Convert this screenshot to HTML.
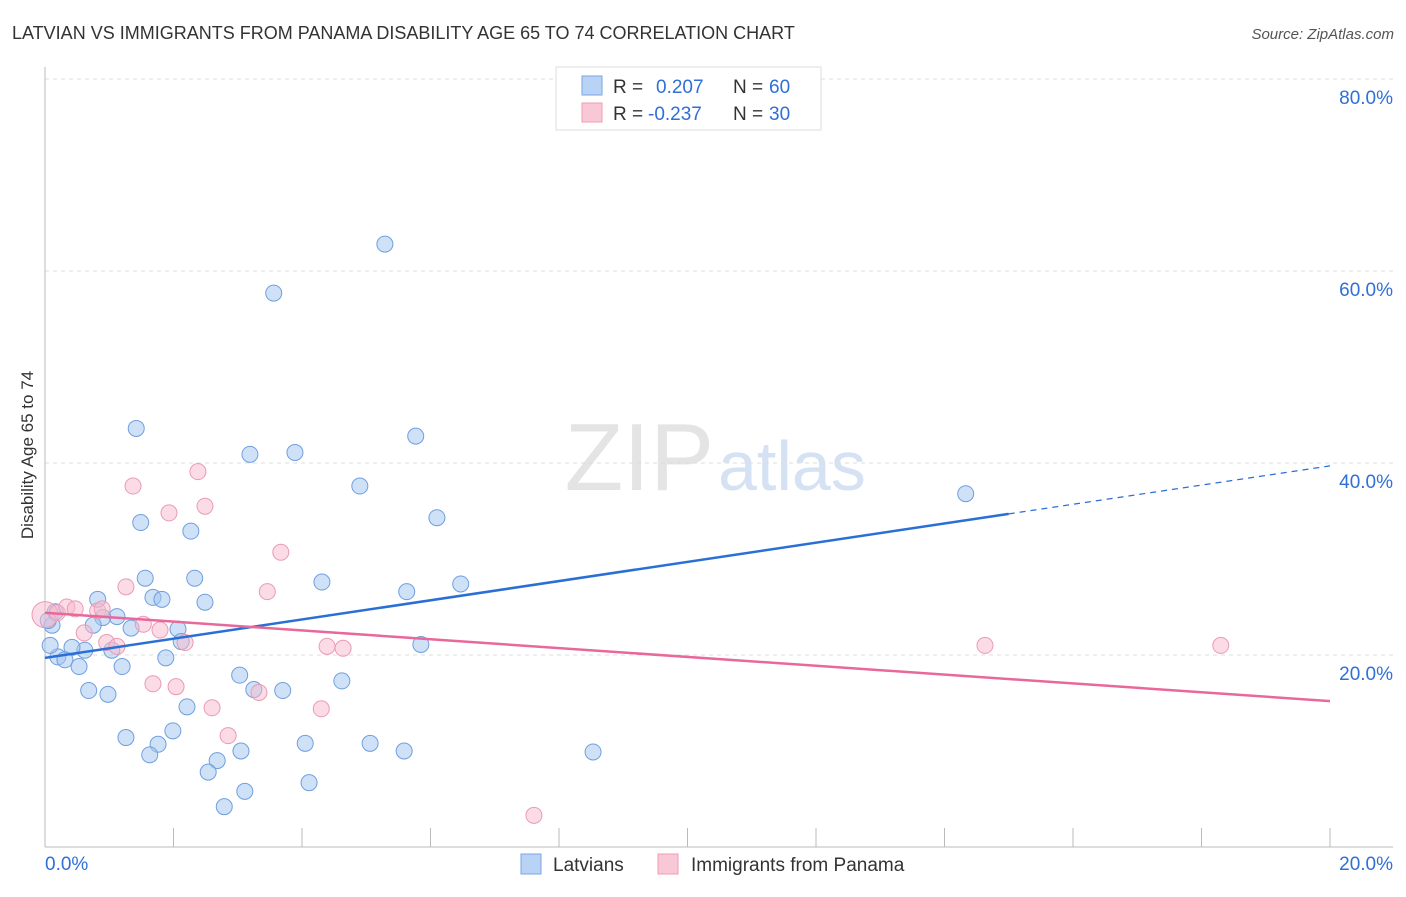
<!DOCTYPE html>
<html><head><meta charset="utf-8"><style>
body{margin:0;background:#fff;font-family:"Liberation Sans",sans-serif;}
svg text{font-family:"Liberation Sans",sans-serif;}
</style></head><body>
<svg id="chart" width="1406" height="892">
<text x="12" y="39" font-size="18" fill="#333">LATVIAN VS IMMIGRANTS FROM PANAMA DISABILITY AGE 65 TO 74 CORRELATION CHART</text>
<text x="1394" y="39" font-size="15" fill="#555" text-anchor="end" font-style="italic">Source: ZipAtlas.com</text>
<text x="714" y="490" font-size="96" fill="#e4e4e4" text-anchor="end" font-family="Liberation Serif">ZIP</text>
<text x="718" y="490" font-size="70" fill="#d4e2f4">atlas</text>
<g id="grid"></g>
<g id="axes"></g>
<g id="marks"></g>
<text x="33" y="455" font-size="17" fill="#333" text-anchor="middle" transform="rotate(-90 33 455)">Disability Age 65 to 74</text>
<g>
<rect x="556" y="67" width="265" height="63" fill="#fff" stroke="#ddd"/>
<rect x="582" y="76" width="20" height="19" fill="#b8d3f5" stroke="#7aa6e3"/>
<rect x="582" y="103" width="20" height="19" fill="#f9c8d6" stroke="#ee9bb3"/>
<text x="613" y="93" font-size="19" fill="#333">R =</text>
<text x="656" y="93" font-size="19" fill="#2f6fd6">0.207</text>
<text x="733" y="93" font-size="19" fill="#333">N =</text>
<text x="769" y="93" font-size="19" fill="#2f6fd6">60</text>
<text x="613" y="120" font-size="19" fill="#333">R =</text>
<text x="648" y="120" font-size="19" fill="#2f6fd6">-0.237</text>
<text x="733" y="120" font-size="19" fill="#333">N =</text>
<text x="769" y="120" font-size="19" fill="#2f6fd6">30</text>
</g>
<g>
<rect x="521" y="854" width="20" height="20" fill="#b8d3f5" stroke="#7aa6e3"/>
<text x="553" y="871" font-size="19" fill="#333">Latvians</text>
<rect x="658" y="854" width="20" height="20" fill="#f9c8d6" stroke="#ee9bb3"/>
<text x="691" y="871" font-size="19" fill="#333">Immigrants from Panama</text>
</g>
</svg>
<script>
const blueX=[5.29,3.56,1.42,5.77,3.19,3.89,4.90,14.33,6.10,1.49,2.27,1.56,2.33,4.31,6.47,5.63,0.82,1.68,1.82,2.49,1.12,0.90,0.75,1.34,2.07,2.12,5.85,1.04,0.62,0.42,0.20,0.31,0.08,0.11,0.16,1.88,0.53,1.20,3.03,4.62,3.25,3.70,0.68,0.98,2.21,1.99,1.26,1.76,4.05,5.06,5.59,3.05,1.63,8.53,2.68,2.54,4.11,3.11,2.79,0.05];
const blueY=[62.8,57.7,43.6,42.8,40.9,41.1,37.6,36.8,34.3,33.8,32.9,28.0,28.0,27.6,27.4,26.6,25.8,26.0,25.8,25.5,24.0,23.9,23.1,22.8,22.7,21.4,21.1,20.5,20.5,20.8,19.8,19.5,21.0,23.1,24.5,19.7,18.8,18.8,17.9,17.3,16.4,16.3,16.3,15.9,14.6,12.1,11.4,10.7,10.8,10.8,10.0,10.0,9.6,9.9,9.0,7.8,6.7,5.8,4.2,23.6];
const pinkX=[0,0.19,0.34,0.47,0.82,0.89,0.61,0.96,1.12,1.26,1.37,1.93,2.38,2.49,3.67,3.46,1.53,1.79,2.18,1.68,2.04,2.60,2.85,3.33,4.39,4.64,4.30,7.61,14.63,18.30];
const pinkY=[24.2,24.4,25.0,24.8,24.6,24.8,22.3,21.3,20.9,27.1,37.6,34.8,39.1,35.5,30.7,26.6,23.2,22.6,21.3,17.0,16.7,14.5,11.6,16.1,20.9,20.7,14.4,3.3,21.0,21.0];
const blueTrend=[19.7,34.7,39.7]; // at x=0, 15, 20
const trendX=[0,15,20];
const pinkTrend=[24.4,15.2]; // at x=0, 20
const yTicks=[20,40,60,80];
const xTicks=[2,4,6,8,10,12,14,16,18,20];
const NS='http://www.w3.org/2000/svg';
const sx=v=>45+v/20*1285, sy=v=>847-v*9.6;
function mk(tag,attrs,parent){const e=document.createElementNS(NS,tag);for(const k in attrs)e.setAttribute(k,attrs[k]);document.getElementById(parent).appendChild(e);return e;}
yTicks.forEach(t=>{
 const g=mk('line',{x1:45,x2:1393,y1:sy(t),y2:sy(t),stroke:'#ddd','stroke-dasharray':'4,4'},'grid');
 
 
 const l=mk('text',{x:1393,y:sy(t)+25,'font-size':19,fill:'#2f6fd6','text-anchor':'end'},'grid');
 l.textContent=t.toFixed(1)+'%';
 
 
});
const ax=mk('line',{x1:45,x2:1393,y1:847,y2:847,stroke:'#bbb'},'axes');


const ay=mk('line',{x1:45,x2:45,y1:67,y2:847,stroke:'#bbb'},'axes');


xTicks.forEach(t=>{
 const e=mk('line',{x1:sx(t),x2:sx(t),y1:828,y2:847,stroke:'#bbb'},'axes');
 
 
});
const x0=mk('text',{x:45,y:870,'font-size':19,fill:'#2f6fd6'},'axes');x0.textContent='0.0%';


const x1=mk('text',{x:1393,y:870,'font-size':19,fill:'#2f6fd6','text-anchor':'end'},'axes');x1.textContent='20.0%';


blueX.forEach((x,i)=>{
 const c=mk('circle',{cx:sx(x),cy:sy(blueY[i]),r:8,fill:'rgba(160,195,240,0.5)',stroke:'#6f9fe0','stroke-width':1},'marks');
 
 
});
pinkX.forEach((x,i)=>{
 const c=mk('circle',{cx:sx(x),cy:sy(pinkY[i]),r:i===0?13:8,fill:'rgba(248,185,205,0.5)',stroke:'#ec9ab3','stroke-width':1},'marks');
 
 
});
const bt=mk('line',{x1:sx(trendX[0]),y1:sy(blueTrend[0]),x2:sx(trendX[1]),y2:sy(blueTrend[1]),stroke:'#2a6fd6','stroke-width':2.5},'marks');


const bd=mk('line',{x1:sx(trendX[1]),y1:sy(blueTrend[1]),x2:sx(trendX[2]),y2:sy(blueTrend[2]),stroke:'#2a6fd6','stroke-width':1.2,'stroke-dasharray':'6,5'},'marks');


const pt=mk('line',{x1:sx(0),y1:sy(pinkTrend[0]),x2:sx(20),y2:sy(pinkTrend[1]),stroke:'#e8689a','stroke-width':2.5},'marks');


</script>
</body></html>
